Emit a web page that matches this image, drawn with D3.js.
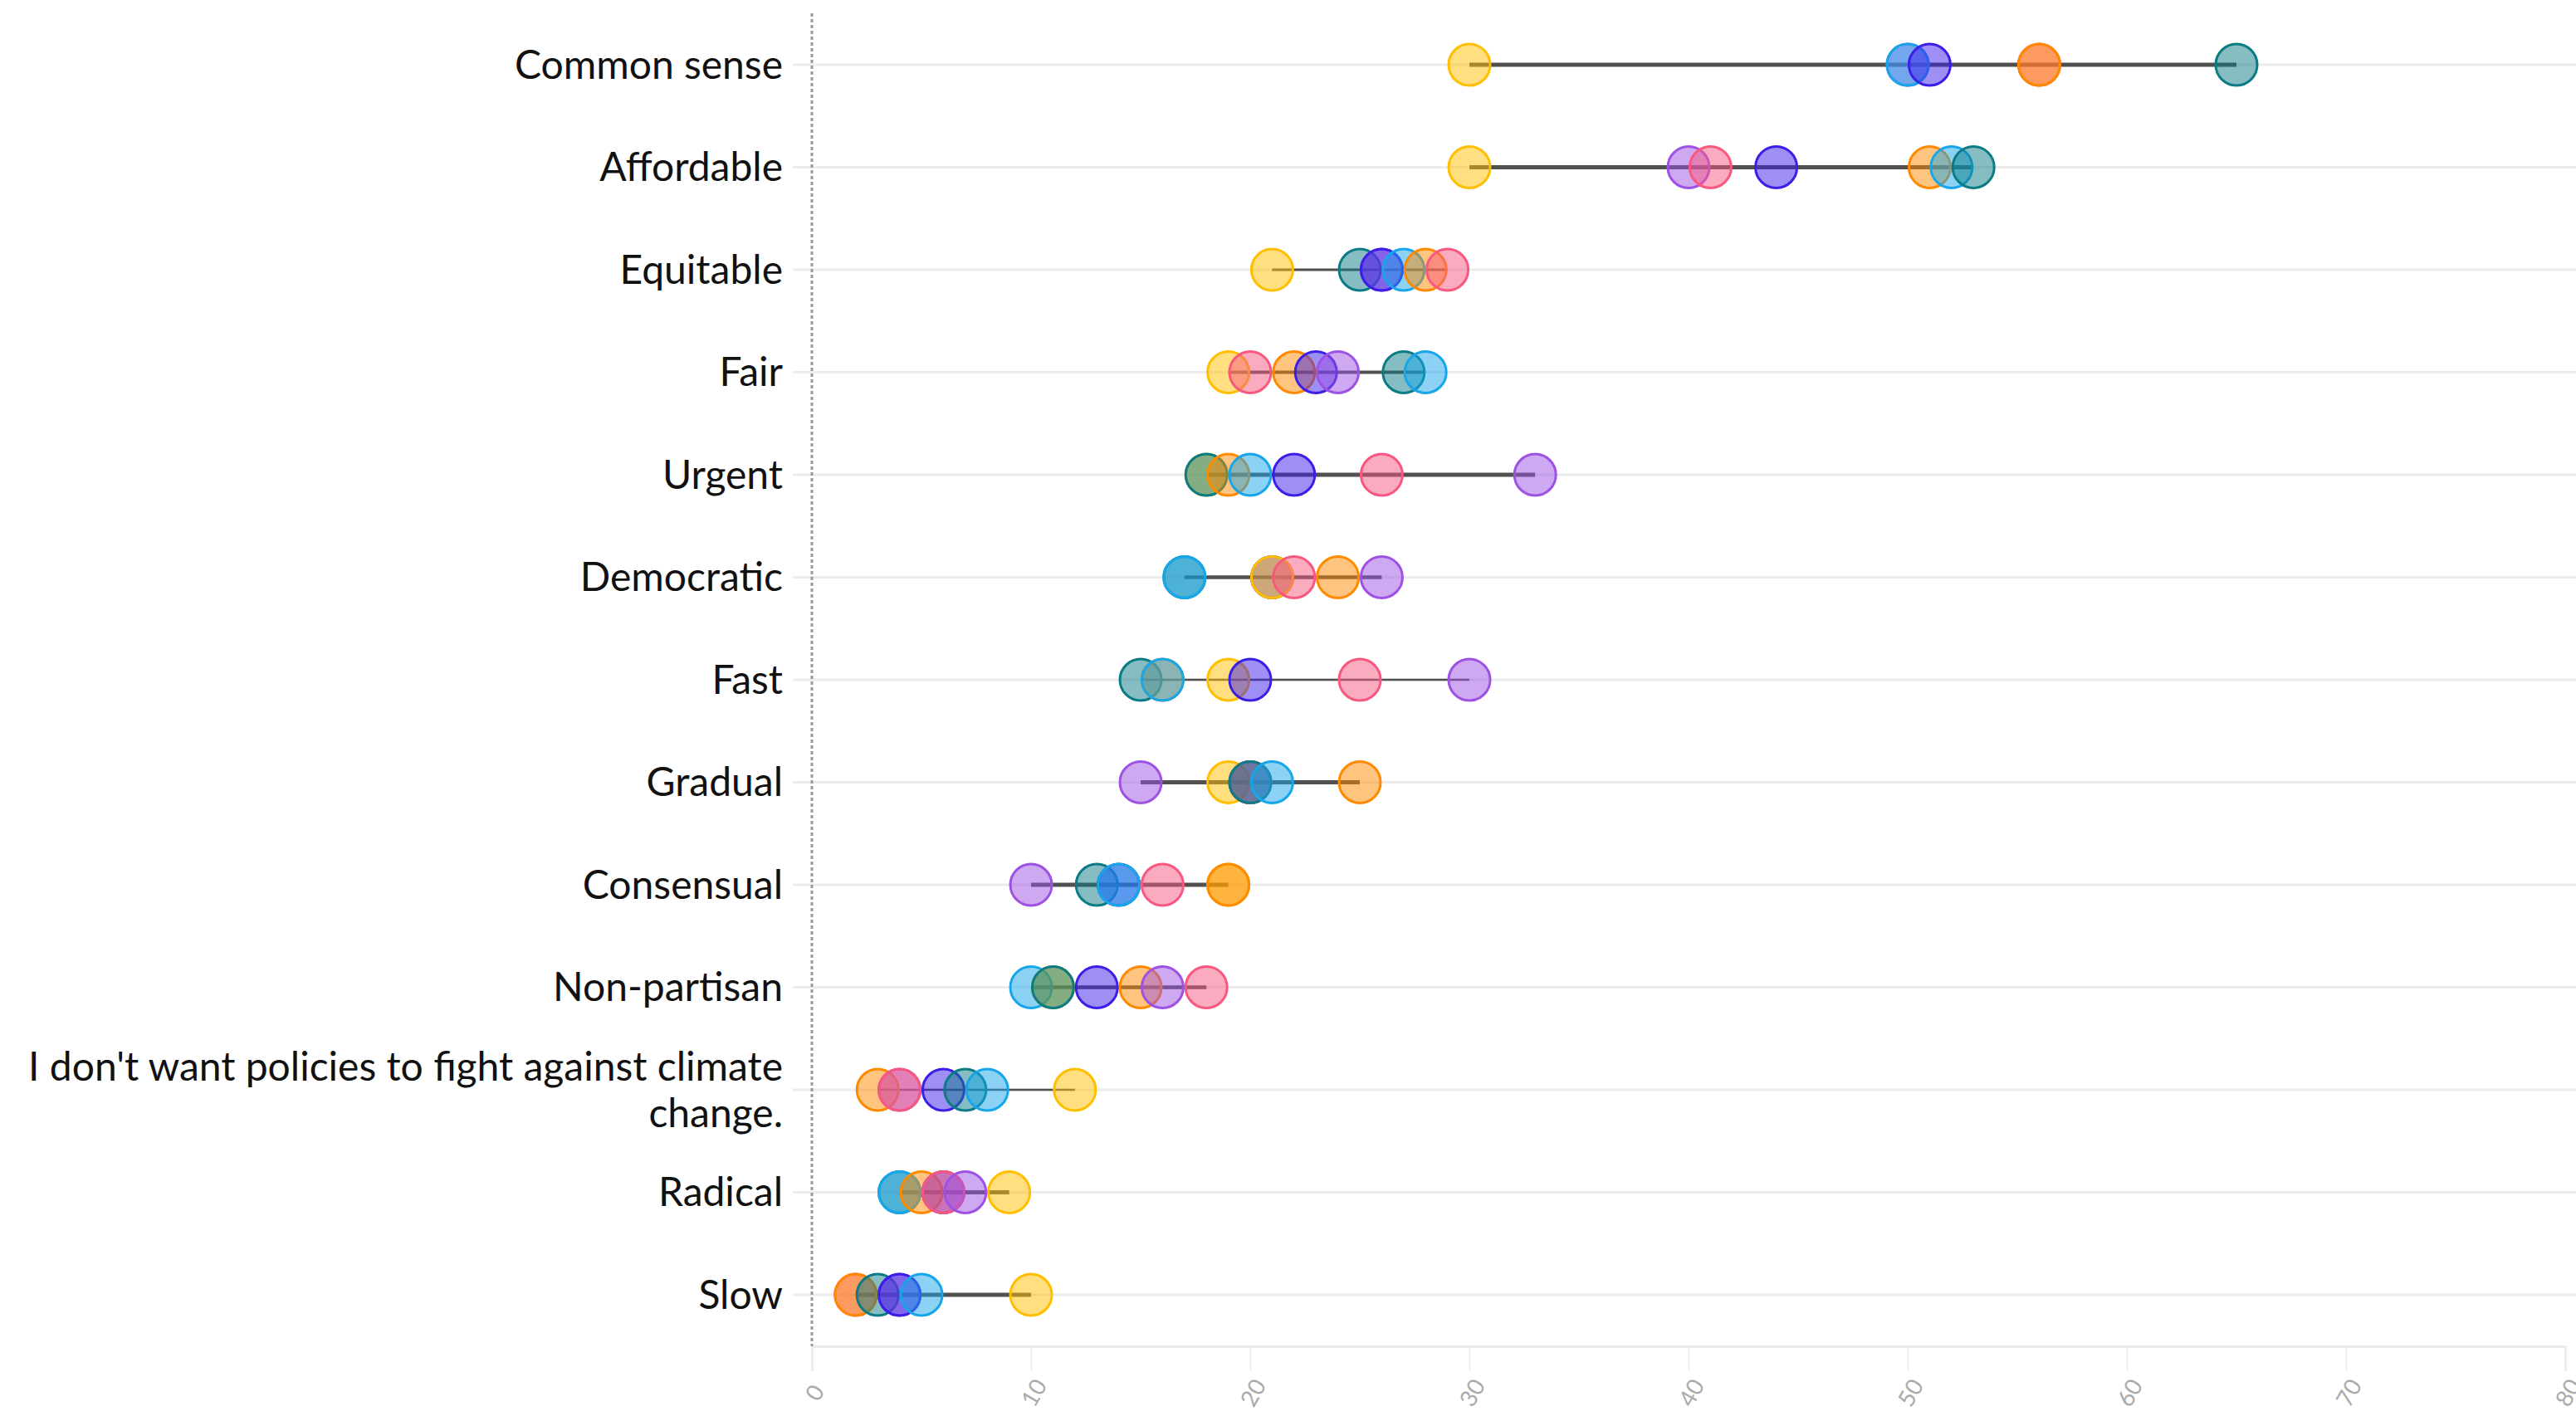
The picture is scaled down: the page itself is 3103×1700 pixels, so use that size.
<!DOCTYPE html>
<html>
<head>
<meta charset="utf-8">
<script src="https://cdn.jsdelivr.net/npm/d3@7"></script>
<style>
  body { margin: 0; background: #fff; }
  svg { display: block; }
  .row-label { font-family: Lato, sans-serif; font-size: 48px; fill: #111; }
  .x-axis text { font-family: Lato, sans-serif; font-size: 28px; fill: #ababab; }
</style>
</head>
<body>
<svg id="chart"></svg>
<script>
// rows, top to bottom
const categories = ["Common sense", "Affordable", "Equitable", "Fair", "Urgent", "Democratic",
  "Fast", "Gradual", "Consensual", "Non-partisan",
  "I don't want policies to fight against climate change.", "Radical", "Slow"];

// one value per row, same order as categories
const yellowVals = [30, 30, 21, 19, 18, 21, 19, 19, 19, 11, 12, 9, 10];
const orangeVals = [56, 51, 28, 22, 19, 24, 16, 25, 19, 15, 3, 5, 2];
const pinkVals   = [56, 41, 29, 20, 26, 22, 25, 20, 16, 18, 4, 6, 2];
const purpleVals = [50, 40, 26, 24, 33, 26, 30, 15, 10, 16, 4, 7, 4];
const indigoVals = [51, 44, 26, 23, 22, 21, 20, 20, 14, 13, 6, 6, 4];
const skyVals    = [50, 52, 27, 28, 20, 17, 16, 21, 14, 10, 8, 4, 5];
const tealVals   = [65, 53, 25, 27, 18, 17, 15, 20, 13, 11, 7, 4, 3];

const seriesNames = ["yellow", "orange", "pink", "purple", "indigo", "sky", "teal"];
const seriesVals = [yellowVals, orangeVals, pinkVals, purpleVals, indigoVals, skyVals, tealVals];
const seriesColors = ["#FFBF00", "#FF8A00", "#F8587F", "#9E52E3", "#3B1FE8", "#17A6EA", "#0B7C85"];
// which dot ends up on top when two share a value
const stackOrder = ["purple", "indigo", "yellow", "pink", "orange", "teal", "sky"];

const xTicks = [0, 10, 20, 30, 40, 50, 60, 70, 80];

// range line weight per row (varies in the original)
const rowLineWidth = [5, 5, 3, 4, 5, 4.5, 2.5, 5, 5, 4.5, 2.5, 5, 5];

width = 3103;
height = 1700;

const svg = d3.select("#chart")
    .attr("width", width)
    .attr("height", height);

const x = d3.scaleLinear()
    .domain([0, 80])
    .range([978, 3090]);

const y = d3.scalePoint()
    .domain(categories)
    .range([78, 1560]);

const color = d3.scaleOrdinal()
    .domain(seriesNames)
    .range(seriesColors);

const axisY = 1622;

// row grid lines
svg.append("g")
  .selectAll("line")
  .data(categories)
  .join("line")
    .attr("x1", 955)
    .attr("x2", width)
    .attr("y1", d => y(d))
    .attr("y2", d => y(d))
    .attr("stroke", "#ececec")
    .attr("stroke-width", 3);

// x axis
const xAxis = svg.append("g")
    .attr("class", "x-axis")
    .attr("transform", `translate(0,${axisY})`)
    .call(d3.axisBottom(x).tickValues(xTicks).tickSize(30).tickPadding(0));

xAxis.select(".domain")
    .attr("stroke", "#eaeaea")
    .attr("stroke-width", 3);
xAxis.selectAll(".tick line")
    .attr("stroke", "#eeeeee")
    .attr("stroke-width", 2);
xAxis.selectAll(".tick text")
    .attr("y", 0)
    .attr("dy", "0.35em")
    .attr("text-anchor", "middle")
    .attr("transform", "translate(3,56) rotate(-60)");

// dotted zero line
svg.append("line")
    .attr("x1", x(0))
    .attr("x2", x(0))
    .attr("y1", 16)
    .attr("y2", axisY)
    .attr("stroke", "#999")
    .attr("stroke-width", 3)
    .attr("stroke-dasharray", "4,3");

// build rows
const rows = categories.map((c, i) => {
  const pts = seriesNames.map((s, j) => ({series: s, value: seriesVals[j][i]}));
  return {name: c, pts: pts, lw: rowLineWidth[i]};
});

// range lines
svg.append("g")
  .selectAll("line")
  .data(rows)
  .join("line")
    .attr("x1", d => x(d3.min(d.pts, p => p.value)))
    .attr("x2", d => x(d3.max(d.pts, p => p.value)))
    .attr("y1", d => y(d.name))
    .attr("y2", d => y(d.name))
    .attr("stroke", "#505050")
    .attr("stroke-width", d => d.lw);

// dots
const dotGroups = svg.append("g")
  .selectAll("g")
  .data(rows)
  .join("g")
    .attr("transform", d => `translate(0,${y(d.name)})`);

dotGroups.selectAll("circle")
  .data(d => d.pts.slice().sort((a, b) =>
      a.value - b.value || stackOrder.indexOf(a.series) - stackOrder.indexOf(b.series)))
  .join("circle")
    .attr("cx", d => x(d.value))
    .attr("cy", 0)
    .attr("r", 25)
    .attr("fill", d => color(d.series))
    .attr("fill-opacity", 0.5)
    .attr("stroke", d => color(d.series))
    .attr("stroke-width", 3);

// row labels, wrapped when too long
const labelX = 943;
const maxLabelWidth = 925;

svg.append("g")
  .selectAll("text")
  .data(categories)
  .join("text")
    .attr("class", "row-label")
    .attr("x", labelX)
    .attr("y", d => y(d))
    .attr("text-anchor", "end")
    .each(function(d) {
      const text = d3.select(this);
      const words = d.split(" ");
      let lines = [];
      let line = [];
      let tspan = text.append("tspan").attr("x", labelX);
      words.forEach(w => {
        line.push(w);
        tspan.text(line.join(" "));
        if (tspan.node().getComputedTextLength() > maxLabelWidth && line.length > 1) {
          line.pop();
          lines.push(line.join(" "));
          line = [w];
          tspan.text(w);
        }
      });
      lines.push(line.join(" "));
      tspan.remove();
      const lh = 56;
      lines.forEach((l, k) => {
        text.append("tspan")
            .attr("x", labelX)
            .attr("dy", k === 0 ? (0.35 * 48 - (lines.length - 1) * lh / 2) + "px" : lh + "px")
            .text(l);
      });
    });
</script>
</body>
</html>
